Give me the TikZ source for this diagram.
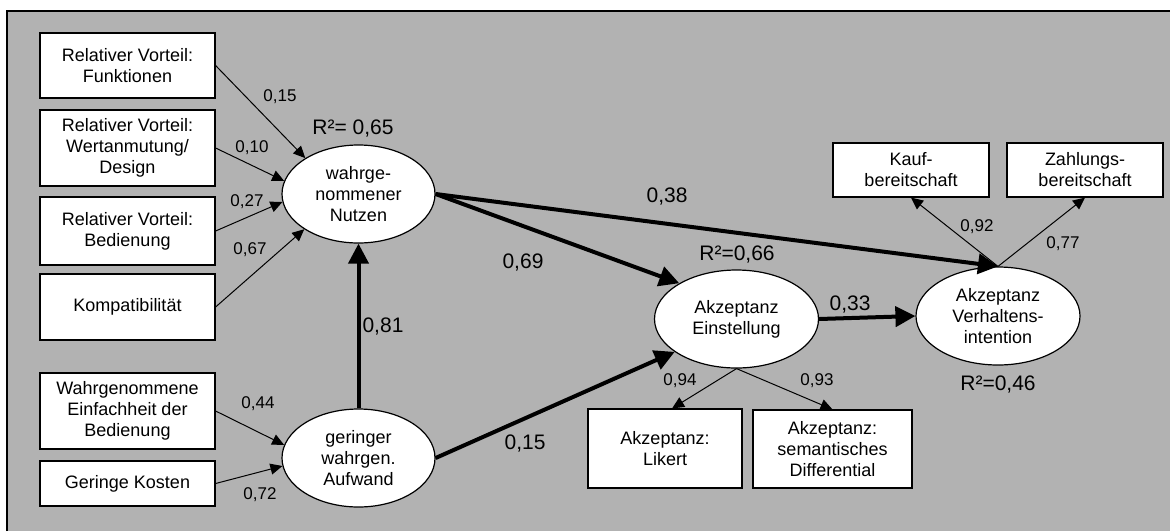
\documentclass[tikz,border=0pt]{standalone}
\usepackage{fontspec}
\setmainfont{Liberation Sans}
\usetikzlibrary{arrows.meta,shapes.geometric}

\begin{document}
\begin{tikzpicture}[
        x=0.5pt, y=-0.5pt,
        indicator/.style={rectangle, draw=black, fill=white, line width=0.6pt, minimum width=87.5pt, align=center, inner sep=1pt, font=\fontsize{9}{10.5}\selectfont},
        construct/.style={ellipse, draw=black, fill=white, line width=0.6pt, minimum width=76.5pt, minimum height=49pt, inner sep=0pt, align=center, font=\fontsize{9}{10.5}\selectfont},
        link/.style={-{Triangle[length=6pt, width=5.5pt]}, line width=0.5pt},
        strong/.style={-{Triangle[length=10pt, width=10pt]}, line width=2pt},
        coef/.style={font=\fontsize{8.5}{10}\selectfont, inner sep=0pt},
        bigcoef/.style={font=\fontsize{10.5}{12}\selectfont, inner sep=0pt}
    ]

    \useasboundingbox (0,0) rectangle (1170,531);

    % Frame
    \fill[black!30] (7,11) rectangle (1170,531);
    \draw[line width=0.6pt] (7,531) -- (7,11) -- (1170,11);

    % Indicators on the left
    \node (funk) at (127.5,65.5) [indicator, minimum height=32.5pt] {Relativer Vorteil:\\Funktionen};
    \node (wert) at (127.5,148) [indicator, minimum height=38pt] {Relativer Vorteil:\\Wertanmutung/\\Design};
    \node (bed) at (127.5,231) [indicator, minimum height=34pt] {Relativer Vorteil:\\Bedienung};
    \node (komp) at (127.5,307) [indicator, minimum height=33pt] {Kompatibilität};
    \node (einf) at (127.5,411) [indicator, minimum height=38pt] {Wahrgenommene\\Einfachheit der\\Bedienung};
    \node (kost) at (127.5,483.5) [indicator, minimum height=22.5pt] {Geringe Kosten};

    % Constructs
    \node (nutzen) at (358.5,194) [construct] {wahrge-\\nommener\\Nutzen};
    \node (aufwand) at (358.5,458) [construct] {geringer\\wahrgen.\\Aufwand};
    \node (einst) at (736.5,319) [construct, minimum width=82pt] {Akzeptanz\\Einstellung};
    \node (intent) at (998,316) [construct, minimum width=82pt] {Akzeptanz\\Verhaltens-\\intention};

    % Indicators on the right
    \node (kauf) at (911,170) [indicator, minimum width=78pt, minimum height=27pt] {Kauf-\\bereitschaft};
    \node (zahl) at (1085,170) [indicator, minimum width=78pt, minimum height=27pt] {Zahlungs-\\bereitschaft};
    \node (likert) at (665,448.5) [indicator, minimum width=77pt, minimum height=39.5pt] {Akzeptanz:\\Likert};
    \node (semdiff) at (832.5,449) [indicator, minimum width=79.5pt, minimum height=39pt] {Akzeptanz:\\semantisches\\Differential};

    % Paths
    \draw[link] (funk.east) -- (nutzen.146);
    \draw[link] (wert.east) -- (nutzen.170);
    \draw[link] (bed.east) -- (nutzen.186);
    \draw[link] (komp.east) -- (nutzen.213);
    \draw[link] (einf.east) -- (aufwand.170);
    \draw[link] (kost.east) -- (aufwand.186);
    \draw[strong] (aufwand.north) -- (nutzen.south);
    \draw[strong] (nutzen.east) -- (einst.148);
    \draw[strong] (nutzen.east) -- (intent.north);
    \draw[strong] (aufwand.east) -- (einst.208);
    \draw[strong] (einst.east) -- (intent.west);
    \draw[link] (intent.north) -- (kauf.south);
    \draw[link] (intent.north) -- (zahl.south);
    \draw[link] (einst.south) -- (likert.80);
    \draw[link] (einst.south) -- (semdiff.north);

    % Coefficients
    \node[coef] (c1) at (280,97) {0,15};
    \node[coef] (c2) at (252,148) {0,10};
    \node[coef] (c3) at (247,202) {0,27};
    \node[coef] (c4) at (250,250) {0,67};
    \node[coef] (c5) at (258,404) {0,44};
    \node[coef] (c6) at (260,495) {0,72};
    \node[coef] (c7) at (977,227) {0,92};
    \node[coef] (c8) at (1063,244) {0,77};
    \node[coef] (c9) at (680,381) {0,94};
    \node[coef] (c10) at (817,381) {0,93};
    \node[bigcoef] (p1) at (383,327) {0,81};
    \node[bigcoef] (p2) at (523,263) {0,69};
    \node[bigcoef] (p3) at (667,197) {0,38};
    \node[bigcoef] (p4) at (525,443) {0,15};
    \node[bigcoef] (p5) at (850,305) {0,33};

    % Explained variance
    \node[bigcoef] (r1) at (353,129) {R²= 0,65};
    \node[bigcoef] (r2) at (737,255) {R²=0,66};
    \node[bigcoef] (r3) at (998,385) {R²=0,46};

\end{tikzpicture}
\end{document}
